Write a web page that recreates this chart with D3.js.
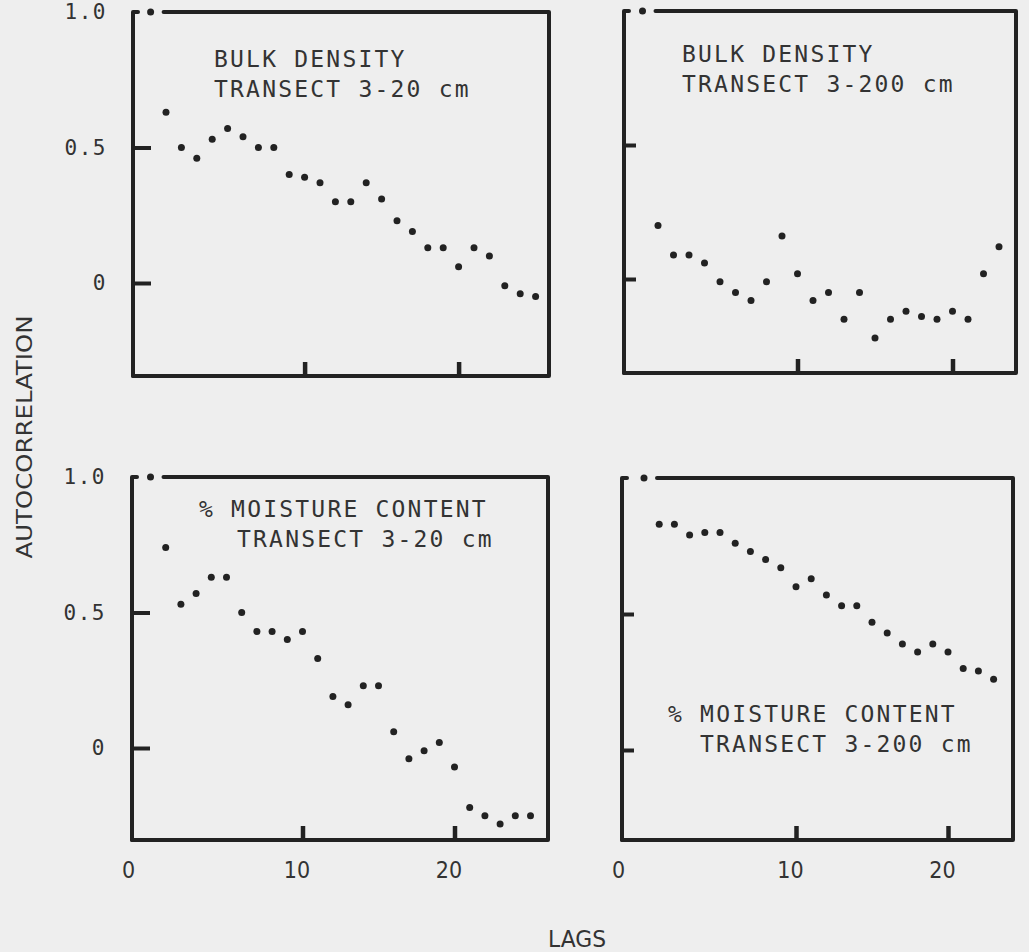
<!DOCTYPE html>
<html>
<head>
<meta charset="utf-8">
<script src="https://cdn.jsdelivr.net/npm/d3@7"></script>
<style>
  html, body { margin: 0; padding: 0; background: #eeeeee; }
  svg { display: block; }
  .panel-label { font-family: "DejaVu Sans Mono", monospace; font-size: 23px; letter-spacing: 2.2px; fill: #333; }
  .ytick text { font-family: "DejaVu Sans Mono", monospace; font-size: 21px; letter-spacing: 1.5px; fill: #333; }
  .xtick text { font-family: "DejaVu Sans Condensed", "DejaVu Sans", sans-serif; font-size: 23px; fill: #333; }
  .axis-title { font-family: "DejaVu Sans Condensed", "DejaVu Sans", sans-serif; font-size: 21px; fill: #333; }
</style>
</head>
<body>
<svg id="chart" width="1029" height="952"></svg>
<script>
// Lags (categories)
const lagsLong  = [0, 1, 2, 3, 4, 5, 6, 7, 8, 9, 10, 11, 12, 13, 14, 15, 16, 17, 18, 19, 20, 21, 22, 23, 24, 25];
const lagsShort = [0, 1, 2, 3, 4, 5, 6, 7, 8, 9, 10, 11, 12, 13, 14, 15, 16, 17, 18, 19, 20, 21, 22, 23];

// Autocorrelation by lag
const bulkDensity20  = [1.00, 0.63, 0.50, 0.46, 0.53, 0.57, 0.54, 0.50, 0.50, 0.40, 0.39, 0.37, 0.30, 0.30, 0.37, 0.31, 0.23, 0.19, 0.13, 0.13, 0.06, 0.13, 0.10, -0.01, -0.04, -0.05];
const bulkDensity200 = [1.00, 0.20, 0.09, 0.09, 0.06, -0.01, -0.05, -0.08, -0.01, 0.16, 0.02, -0.08, -0.05, -0.15, -0.05, -0.22, -0.15, -0.12, -0.14, -0.15, -0.12, -0.15, 0.02, 0.12];
const moisture20     = [1.00, 0.74, 0.53, 0.57, 0.63, 0.63, 0.50, 0.43, 0.43, 0.40, 0.43, 0.33, 0.19, 0.16, 0.23, 0.23, 0.06, -0.04, -0.01, 0.02, -0.07, -0.22, -0.25, -0.28, -0.25, -0.25];
const moisture200    = [1.00, 0.83, 0.83, 0.79, 0.80, 0.80, 0.76, 0.73, 0.70, 0.67, 0.60, 0.63, 0.57, 0.53, 0.53, 0.47, 0.43, 0.39, 0.36, 0.39, 0.36, 0.30, 0.29, 0.26];

// Tick labels and titles
const yTickValues = [0, 0.5, 1.0];
const yTickMarks  = [0, 0.5];
const xTickValues = [0, 10, 20];
const xTickMarks  = [10, 20];
const panelTitles = [
  ["BULK DENSITY", "TRANSECT 3-20 cm"],
  ["BULK DENSITY", "TRANSECT 3-200 cm"],
  ["% MOISTURE CONTENT", "TRANSECT 3-20 cm"],
  ["% MOISTURE CONTENT", "TRANSECT 3-200 cm"]
];
const yTitle = "AUTOCORRELATION";
const xTitle = "LAGS";

// Panel frames in pixels: box edges, lag-0 position, px per lag, y of 1.0 and 0
const layout = [
  { left: 133, right: 549, bottom: 376, x0: 150.6, step: 15.4, y1: 12,  y0: 283, tick: 18,
    lines: [[214, 67], [214, 97]], yLabels: true,  xLabels: false },
  { left: 624, right: 1016, bottom: 373, x0: 642.5, step: 15.5, y1: 11, y0: 279, tick: 12,
    lines: [[682, 62], [682, 92]], yLabels: false, xLabels: false },
  { left: 132, right: 548, bottom: 840, x0: 150.5, step: 15.2, y1: 477, y0: 748, tick: 18,
    lines: [[199, 517], [237, 547]], yLabels: true,  xLabels: true },
  { left: 622, right: 1013, bottom: 840, x0: 644, step: 15.2, y1: 478, y0: 750, tick: 12,
    lines: [[668, 722], [700, 752]], yLabels: false, xLabels: true }
];

const series = [
  { lags: lagsLong,  values: bulkDensity20 },
  { lags: lagsShort, values: bulkDensity200 },
  { lags: lagsLong,  values: moisture20 },
  { lags: lagsShort, values: moisture200 }
];

const ink = "#222";
const svg = d3.select("#chart");

layout.forEach((p, i) => {
  const s = series[i];
  const x = d3.scaleLinear().domain([0, 10]).range([p.x0, p.x0 + 10 * p.step]);
  const y = d3.scaleLinear().domain([0, 1]).range([p.y0, p.y1]);
  const g = svg.append("g");

  // Frame: the top edge leaves a gap around the lag-0 point
  const frame = g.append("g")
    .attr("stroke", ink).attr("stroke-width", 4).attr("fill", "none")
    .attr("stroke-linecap", "round").attr("stroke-linejoin", "round");
  frame.append("path")
    .attr("d", `M${p.left},${p.bottom} L${p.left},${y(1)} L${p.left + 5},${y(1)}`);
  frame.append("path")
    .attr("d", `M${x(0) + 13},${y(1)} L${p.right},${y(1)} L${p.right},${p.bottom} L${p.left},${p.bottom}`);

  // Inward tick marks on the left edge
  const yMarks = g.append("g").attr("class", "ytick")
    .attr("transform", `translate(${p.left},0)`)
    .call(d3.axisRight(y).tickValues(yTickMarks).tickSize(p.tick).tickFormat(""));
  yMarks.select(".domain").remove();
  yMarks.selectAll("line").attr("stroke", ink).attr("stroke-width", 4);

  // Inward tick marks on the bottom edge
  const xMarks = g.append("g").attr("class", "xtick")
    .attr("transform", `translate(0,${p.bottom})`)
    .call(d3.axisTop(x).tickValues(xTickMarks).tickSize(14).tickFormat(""));
  xMarks.select(".domain").remove();
  xMarks.selectAll("line").attr("stroke", ink).attr("stroke-width", 4.5);

  // Y tick labels (left column)
  if (p.yLabels) {
    const yl = g.append("g").attr("class", "ytick")
      .attr("transform", `translate(${p.left},0)`)
      .call(d3.axisLeft(y).tickValues(yTickValues).tickSize(0).tickPadding(26)
        .tickFormat(d => d === 0 ? "0" : d3.format(".1f")(d)));
    yl.select(".domain").remove();
  }

  // X tick labels (bottom row)
  if (p.xLabels) {
    const xl = g.append("g").attr("class", "xtick")
      .attr("transform", `translate(0,${p.bottom + 22})`)
      .call(d3.axisBottom(x).tickValues(xTickValues).tickSize(0).tickPadding(0));
    xl.select(".domain").remove();
    xl.selectAll("text")
      .attr("dx", d => d === 0 ? (p.left - 4 - x(0)) : -6)
      .attr("dy", "0.71em");
  }

  // Points
  g.append("g").selectAll("circle")
    .data(s.values.map((v, k) => ({ lag: s.lags[k], r: v })))
    .join("circle")
      .attr("cx", d => x(d.lag))
      .attr("cy", d => y(d.r))
      .attr("r", 3.5)
      .attr("fill", ink);

  // Panel title
  g.selectAll("text.panel-label")
    .data(panelTitles[i])
    .join("text")
      .attr("class", "panel-label")
      .attr("x", (d, k) => p.lines[k][0])
      .attr("y", (d, k) => p.lines[k][1])
      .text(d => d);
});

// Shared axis titles
svg.append("text")
  .attr("class", "axis-title")
  .attr("transform", "translate(32,437) rotate(-90)")
  .attr("text-anchor", "middle")
  .attr("textLength", 243)
  .attr("lengthAdjust", "spacingAndGlyphs")
  .text(yTitle);

svg.append("text")
  .attr("class", "axis-title")
  .attr("font-size", 22)
  .attr("x", 577).attr("y", 947)
  .attr("text-anchor", "middle")
  .attr("textLength", 58)
  .attr("lengthAdjust", "spacingAndGlyphs")
  .style("font-size", "23px")
  .text(xTitle);
</script>
</body>
</html>
